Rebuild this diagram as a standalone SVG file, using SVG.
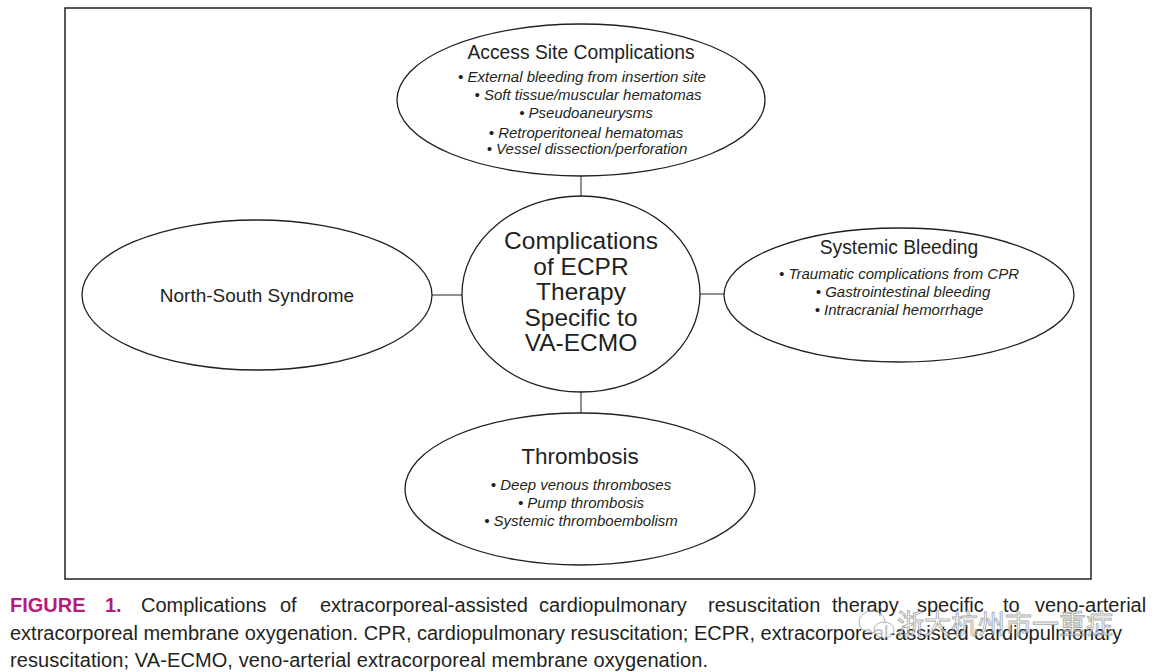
<svg xmlns="http://www.w3.org/2000/svg" width="1152" height="672" viewBox="0 0 1152 672">
<style>
.shape{fill:#fff;stroke:#231f20;stroke-width:1.3}
.conn{stroke:#555;stroke-width:1.3;fill:none}
.t{font-family:"Liberation Sans",Arial,sans-serif;fill:#231f20;text-anchor:middle}
.h{font-size:19.3px}
.b{font-size:15px;font-style:italic}
.c{font-size:24.5px}
.cap{font-family:"Liberation Sans",Arial,sans-serif;font-size:20px;fill:#231f20}
.fig{fill:#b8197f;font-weight:bold}
</style>
<rect width="1152" height="672" fill="#fff"/>
<rect x="65" y="8" width="1026" height="571" fill="#fff" stroke="#231f20" stroke-width="1.5"/>
<g id="connectors">
<line class="conn" x1="581" y1="176" x2="581" y2="196"/>
<line class="conn" x1="432" y1="295" x2="462" y2="295"/>
<line class="conn" x1="700" y1="294" x2="724" y2="294"/>
<line class="conn" x1="581" y1="392" x2="581" y2="413"/>
</g>
<g id="center">
<ellipse class="shape" cx="581" cy="294" rx="119" ry="98"/>
<text class="t c" x="581" y="249">Complications</text>
<text class="t c" x="581" y="275">of ECPR</text>
<text class="t c" x="581" y="300">Therapy</text>
<text class="t c" x="581" y="326">Specific to</text>
<text class="t c" x="581" y="351">VA-ECMO</text>
</g>
<g id="access">
<ellipse class="shape" cx="581" cy="100" rx="184" ry="76"/>
<text class="t h" x="581" y="59">Access Site Complications</text>
<text class="t b" x="582" y="82">• External bleeding from insertion site</text>
<text class="t b" x="588" y="100">• Soft tissue/muscular hematomas</text>
<text class="t b" x="586" y="118">• Pseudoaneurysms</text>
<text class="t b" x="586" y="138">• Retroperitoneal hematomas</text>
<text class="t b" x="587" y="154">• Vessel dissection/perforation</text>
</g>
<g id="systemic">
<ellipse class="shape" cx="899" cy="295" rx="175" ry="67"/>
<text class="t h" x="899" y="254">Systemic Bleeding</text>
<text class="t b" x="899" y="279">• Traumatic complications from CPR</text>
<text class="t b" x="903" y="297">• Gastrointestinal bleeding</text>
<text class="t b" x="899" y="315">• Intracranial hemorrhage</text>
</g>
<g id="northsouth">
<ellipse class="shape" cx="257" cy="295" rx="175" ry="75"/>
<text class="t" style="font-size:19px" x="257" y="302">North-South Syndrome</text>
</g>
<g id="thrombosis">
<ellipse class="shape" cx="580" cy="489" rx="175" ry="76"/>
<text class="t" style="font-size:22.5px" x="580" y="464">Thrombosis</text>
<text class="t b" x="581" y="490">• Deep venous thromboses</text>
<text class="t b" x="581" y="508">• Pump thrombosis</text>
<text class="t b" x="581" y="526">• Systemic thromboembolism</text>
</g>
<g id="caption" class="cap">
<text y="612"><tspan class="fig" x="10">FIGURE</tspan><tspan class="fig" x="105">1.</tspan><tspan x="141">Complications</tspan><tspan x="280">of</tspan><tspan x="320">extracorporeal-assisted</tspan><tspan x="539">cardiopulmonary</tspan><tspan x="708">resuscitation</tspan><tspan x="832">therapy</tspan><tspan x="917">specific</tspan><tspan x="1003">to</tspan><tspan x="1035">veno-arterial</tspan></text>
<text x="10" y="640" textLength="1112" lengthAdjust="spacing">extracorporeal membrane oxygenation. CPR, cardiopulmonary resuscitation; ECPR, extracorporeal-assisted cardiopulmonary</text>
<text x="10" y="667" textLength="698" lengthAdjust="spacing">resuscitation; VA-ECMO, veno-arterial extracorporeal membrane oxygenation.</text>
</g>
<g id="watermark" opacity="0.7" fill="#fff" stroke="#888" stroke-width="0.9">
<ellipse cx="872" cy="622" rx="13" ry="11"/>
<ellipse cx="884" cy="630" rx="10" ry="8"/>
<text x="897" y="634" style="font-family:'Noto Sans CJK SC',sans-serif;font-size:27px">浙大杭州市一重症</text>
</g>
</svg>
